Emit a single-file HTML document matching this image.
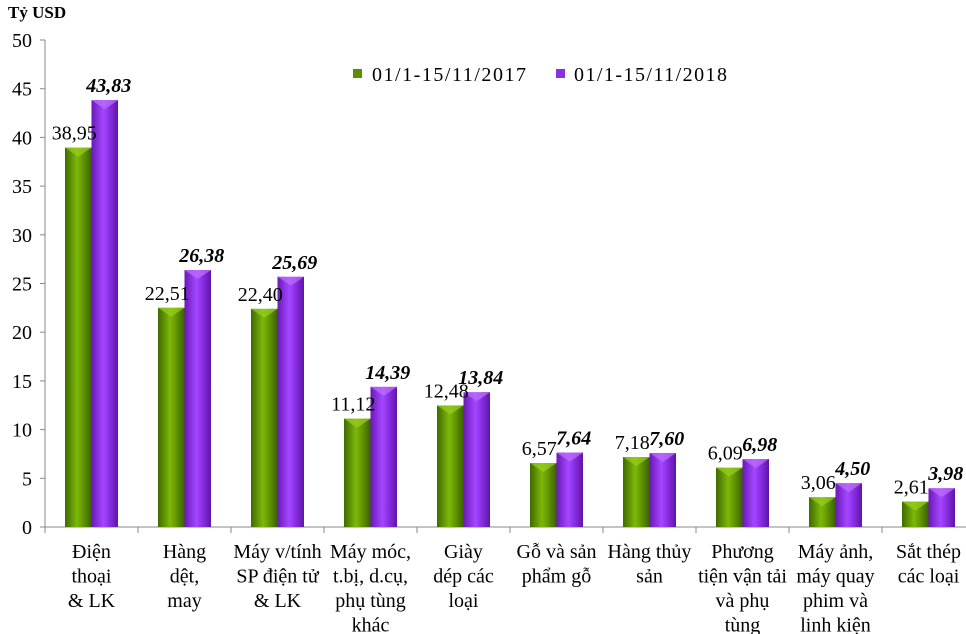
<!DOCTYPE html>
<html><head><meta charset="utf-8"><style>
body{margin:0;background:#fff}
svg{display:block}
text{font-family:"Liberation Serif","DejaVu Serif","Times New Roman",serif}
</style></head><body>
<svg width="966" height="634" viewBox="0 0 966 634" xmlns="http://www.w3.org/2000/svg" font-family="Liberation Serif, DejaVu Serif, serif">
<defs>
<linearGradient id="g" x1="0" x2="1" y1="0" y2="0">
<stop offset="0" stop-color="#3f6a00"/><stop offset="0.45" stop-color="#7cb80a"/><stop offset="0.6" stop-color="#6ea400"/><stop offset="1" stop-color="#3a6200"/></linearGradient>
<linearGradient id="p" x1="0" x2="1" y1="0" y2="0">
<stop offset="0" stop-color="#6a18b8"/><stop offset="0.45" stop-color="#a447ff"/><stop offset="0.6" stop-color="#9436f0"/><stop offset="1" stop-color="#5e14a8"/></linearGradient>
</defs>
<text x="8" y="18" font-size="17" font-weight="bold" font-family="Liberation Serif, serif">Tỷ USD</text>
<g id="chart"></g>
<g font-size="20" font-family="Liberation Serif, serif">
<rect x="353" y="69" width="9" height="9" fill="#5a9000"/>
<text x="372" y="81" textLength="154">01/1-15/11/2017</text>
<rect x="556" y="69" width="9" height="9" fill="#8a30e0"/>
<text x="574" y="81" textLength="153">01/1-15/11/2018</text>
</g>
</svg>
<script>
const d=[[38.95,43.83,"38,95","43,83",["Điện","thoại","& LK"]],
[22.51,26.38,"22,51","26,38",["Hàng","dệt,","may"]],
[22.40,25.69,"22,40","25,69",["Máy v/tính","SP điện tử","& LK"]],
[11.12,14.39,"11,12","14,39",["Máy móc,","t.bị, d.cụ,","phụ tùng","khác"]],
[12.48,13.84,"12,48","13,84",["Giày","dép các","loại"]],
[6.57,7.64,"6,57","7,64",["Gỗ và sản","phẩm gỗ"]],
[7.18,7.60,"7,18","7,60",["Hàng thủy","sản"]],
[6.09,6.98,"6,09","6,98",["Phương","tiện vận tải","và phụ","tùng"]],
[3.06,4.50,"3,06","4,50",["Máy ảnh,","máy quay","phim và","linh kiện"]],
[2.61,3.98,"2,61","3,98",["Sắt thép","các loại"]]];
const Y0=527,S=(527-40)/50,X0=45,W=93,F='font-family="Liberation Serif, serif"';
let s='<line x1="45" y1="40" x2="45" y2="527" stroke="#888"/><line x1="45" y1="527" x2="966" y2="527" stroke="#888"/>';
for(let v=0;v<=50;v+=5){const y=Y0-v*S;s+=`<line x1="40" y1="${y}" x2="45" y2="${y}" stroke="#888"/><text ${F} x="32" y="${y+7}" font-size="20" text-anchor="end">${v}</text>`;}
d.forEach((r,i)=>{const x=X0+W*i;s+=`<line x1="${x}" y1="527" x2="${x}" y2="533" stroke="#888"/>`;
const gx=x+20,px=x+46.5,bw=26.5;
const gy=Y0-r[0]*S,py=Y0-r[1]*S;
s+=`<rect x="${gx}" y="${gy}" width="${bw}" height="${Y0-gy}" fill="url(#g)"/><path d="M${gx} ${gy}h${bw}l-${bw/2} 9z" fill="#98d020" opacity=".7"/>`;
s+=`<rect x="${px}" y="${py}" width="${bw}" height="${Y0-py}" fill="url(#p)"/><path d="M${px} ${py}h${bw}l-${bw/2} 9z" fill="#c070ff" opacity=".7"/>`;
s+=`<text ${F} x="${gx+bw/2-4}" y="${gy-8}" font-size="20" text-anchor="middle">${r[2]}</text>`;
s+=`<text ${F} x="${px+bw/2+4}" y="${py-8}" font-size="20" font-weight="bold" font-style="italic" text-anchor="middle">${r[3]}</text>`;
r[4].forEach((t,j)=>{s+=`<text ${F} x="${x+W/2}" y="${558+j*24.5}" font-size="20" text-anchor="middle">${t}</text>`;});
});
document.getElementById('chart').innerHTML=s;
</script>
</body></html>
